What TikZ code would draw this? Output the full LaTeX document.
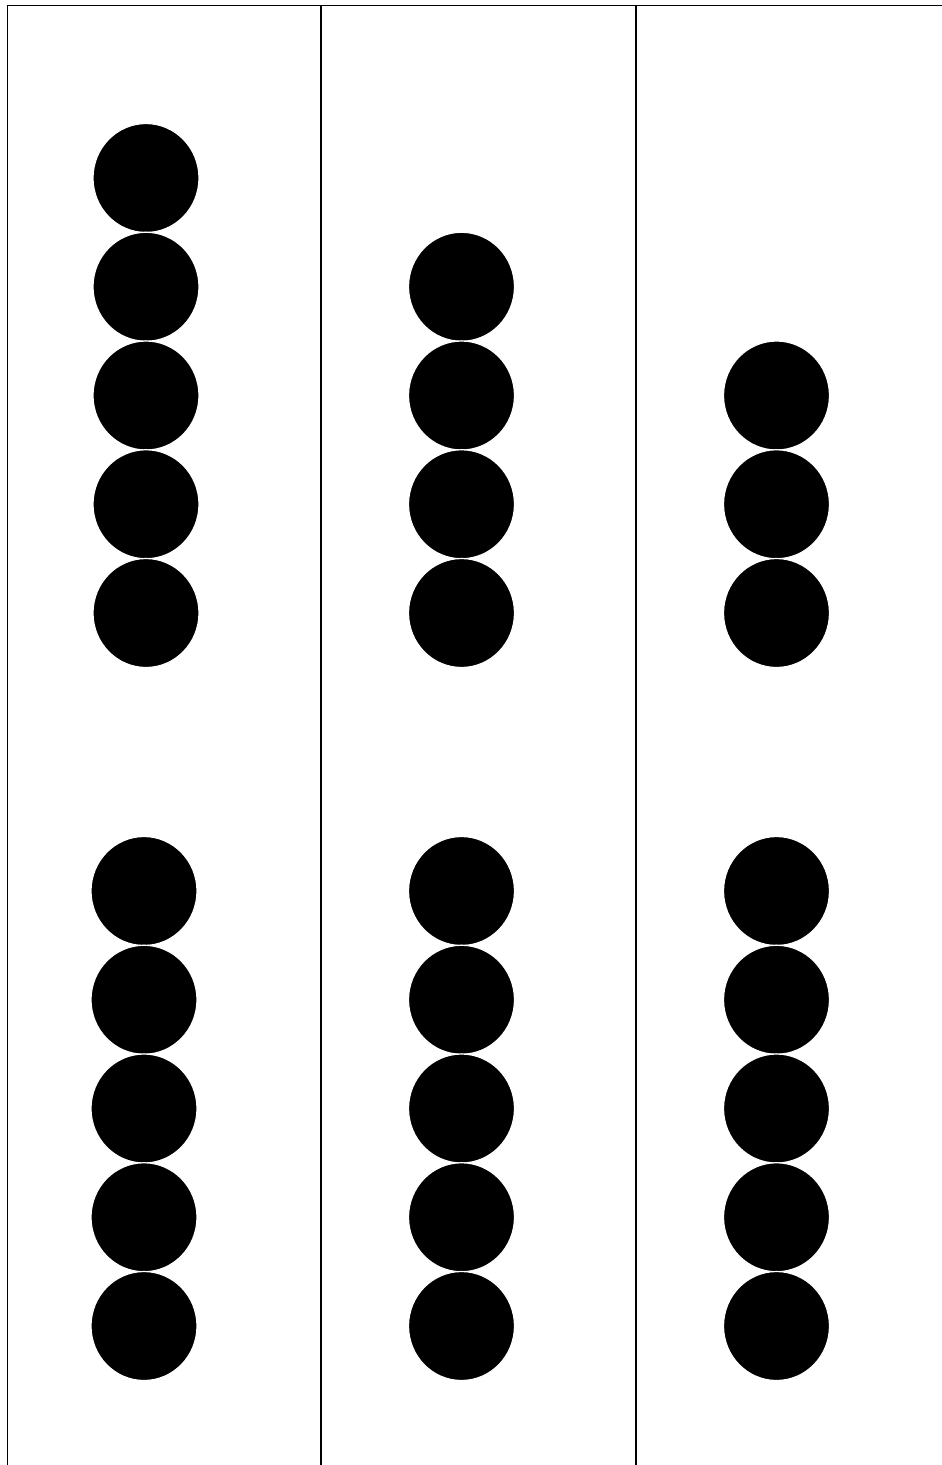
\documentclass[tikz,border=0pt]{standalone}
\usetikzlibrary{shapes.geometric}
\begin{document}
\begin{tikzpicture}[x=1pt,y=-1pt,
  dot/.style={ellipse,fill=black,draw=white,line width=1.2pt,inner sep=0pt,minimum width=106pt,minimum height=109pt},
  frame/.style={draw=black,line width=1.8pt}]
\useasboundingbox (0,0) rectangle (942,1465);
\fill[white] (0,0) rectangle (942,1465);
\coordinate (tl) at (7.5,1465);
\coordinate (tc) at (7.5,5.5);
\coordinate (tr) at (942,5.5);
\draw[frame] (tl) -- (tc) -- (tr);
\coordinate (d1t) at (321,5.5);
\coordinate (d1b) at (321,1465);
\coordinate (d2t) at (636,5.5);
\coordinate (d2b) at (636,1465);
\draw[frame] (d1t) -- (d1b);
\draw[frame] (d2t) -- (d2b);
% top groups
\foreach \i in {0,...,4} \node[dot] (a\i) at (146,178+108.75*\i) {};
\foreach \i in {1,...,4} \node[dot] (b\i) at (461.5,178+108.75*\i) {};
\foreach \i in {2,...,4} \node[dot] (c\i) at (776.5,178+108.75*\i) {};
% bottom groups
\foreach \i in {0,...,4} \node[dot] (p\i) at (144,891+108.75*\i) {};
\foreach \i in {0,...,4} \node[dot] (q\i) at (461.5,891+108.75*\i) {};
\foreach \i in {0,...,4} \node[dot] (r\i) at (776.5,891+108.75*\i) {};
\end{tikzpicture}
\end{document}
